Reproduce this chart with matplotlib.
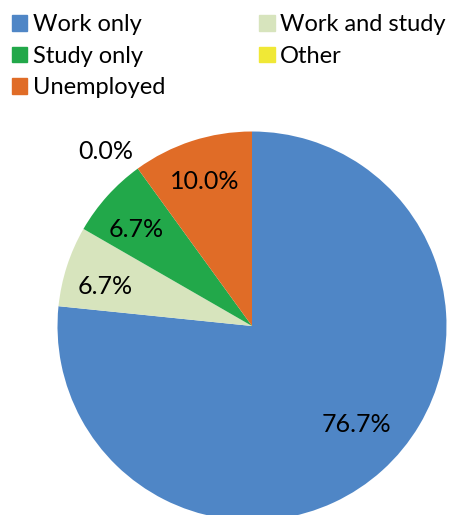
import matplotlib
matplotlib.use("Agg")
import matplotlib.pyplot as plt
import matplotlib.patches as mpatches
import numpy as np

categories = ["Work only", "Work and study", "Study only", "Other", "Unemployed"]
values = [76.7, 6.7, 6.7, 0.0, 10.0]
colors = ["#4F86C6", "#D7E4BD", "#22A84A", "#F0E836", "#E06C27"]
label_dist = [0.74, 0.78, 0.773, 1.17, 0.78]
label_shift = [4.7, 2.8, 2.1, 4.1, 0.0]

plt.rcParams['font.family'] = ['Lato', 'DejaVu Sans']

W, H = 458, 515
fig = plt.figure(figsize=(W / 100, H / 100), dpi=100)
ax = fig.add_axes([0, 0, 1, 1])
ax.set_xlim(0, W)
ax.set_ylim(0, H)
ax.set_aspect('equal')
ax.axis('off')

cx, cy, r = 252, H - 326, 194.5
wedges, _ = ax.pie(values, colors=colors, startangle=90, counterclock=False,
                   center=(cx, cy), radius=r, wedgeprops=dict(linewidth=0))
ax.set_xlim(0, W)
ax.set_ylim(0, H)

for w, v, d, s in zip(wedges, values, label_dist, label_shift):
    mid = np.deg2rad((w.theta1 + w.theta2) / 2 + s)
    x = cx + d * r * np.cos(mid)
    y = cy + d * r * np.sin(mid)
    ax.text(x, y, f"{v:.1f}%", ha='center', va='center', fontsize=18, color='black')

handles = [mpatches.Patch(color=c, label=l) for c, l in zip(colors, categories)]
order = [0, 2, 4, 1, 3]
fig.legend([handles[i] for i in order], [categories[i] for i in order],
           loc='upper left', bbox_to_anchor=(0.0, 0.995), ncol=2, frameon=False,
           fontsize=17, handlelength=0.66, handleheight=0.66, handletextpad=0.22,
           columnspacing=4.0, labelspacing=0.44, borderaxespad=0.1)

fig.savefig("out.png", dpi=100)
